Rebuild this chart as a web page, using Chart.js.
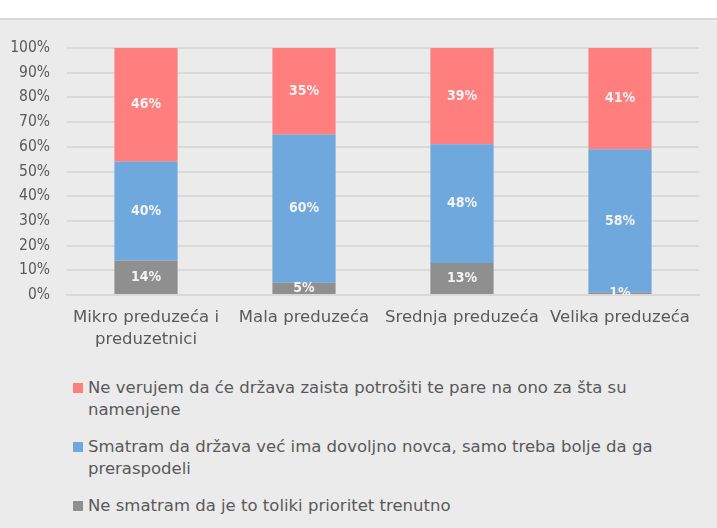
<!DOCTYPE html>
<html>
<head>
<meta charset="utf-8">
<script src="https://cdn.jsdelivr.net/npm/chart.js@4/dist/chart.umd.min.js"></script>
<style>
  html, body { margin: 0; padding: 0; background: #fff; }
  body { width: 717px; height: 528px; position: relative; overflow: hidden;
         font-family: "DejaVu Sans", sans-serif; }
  #panel { position: absolute; left: 0; top: 18px; width: 717px; height: 510px;
           background: #ebebeb; border-top: 2px solid #d9d9d9; box-sizing: border-box; }
  #wrap { position: absolute; left: 0; top: 20px; width: 717px; height: 335px; }
  #legend { position: absolute; left: 73px; top: 377px; color: #595959; font-size: 16.5px; line-height: 22px; }
  .item { display: flex; align-items: flex-start; margin-bottom: 15px; }
  .box { width: 10px; height: 10px; margin-top: 6px; margin-right: 5px; flex: none; }
</style>
</head>
<body>
<div id="panel"></div>
<div id="wrap"><canvas id="graph"></canvas></div>
<div id="legend"></div>
<script>
// categories on the x axis (multi-line labels)
const categories = [
  ['Mikro preduzeća i', 'preduzetnici'],
  'Mala preduzeća',
  'Srednja preduzeća',
  'Velika preduzeća'
];

// series, top of the stack first (legend order)
const seriesLabels = [
  ['Ne verujem da će država zaista potrošiti te pare na ono za šta su', 'namenjene'],
  ['Smatram da država već ima dovoljno novca, samo treba bolje da ga', 'preraspodeli'],
  ['Ne smatram da je to toliki prioritet trenutno']
];
const notTrusting = [46, 35, 39, 41];
const redistribute = [40, 60, 48, 58];
const notPriority = [14, 5, 13, 1];
const seriesColors = ['#ff7f7f', '#6fa8dc', '#8f8f8f'];

const yTicks = [0, 10, 20, 30, 40, 50, 60, 70, 80, 90, 100];

const FONT = '"DejaVu Sans", sans-serif';
const NARROW = '"DejaVu Sans Condensed", "DejaVu Sans", sans-serif';

// draws the value of every segment in its middle, clipped to the plot area
const segmentLabels = {
  id: 'segmentLabels',
  afterDatasetsDraw(chart) {
    const ctx = chart.ctx;
    const area = chart.chartArea;
    ctx.save();
    ctx.beginPath();
    ctx.rect(area.left, area.top, area.right - area.left, area.bottom - area.top);
    ctx.clip();
    ctx.font = 'bold 14px ' + NARROW;
    ctx.fillStyle = '#f4f4f4';
    ctx.textAlign = 'center';
    ctx.textBaseline = 'middle';
    chart.data.datasets.forEach(function(ds, i) {
      chart.getDatasetMeta(i).data.forEach(function(bar, j) {
        ctx.fillText(ds.data[j] + '%', bar.x, (bar.y + bar.base) / 2);
      });
    });
    ctx.restore();
  }
};

// stacking order: bottom first
const datasets = [
  {label: seriesLabels[2].join(' '), data: notPriority, backgroundColor: seriesColors[2]},
  {label: seriesLabels[1].join(' '), data: redistribute, backgroundColor: seriesColors[1]},
  {label: seriesLabels[0].join(' '), data: notTrusting, backgroundColor: seriesColors[0]}
];

const chart = new Chart(document.getElementById('graph').getContext('2d'), {
  type: 'bar',
  data: {labels: categories, datasets: datasets},
  plugins: [segmentLabels],
  options: {
    responsive: true,
    maintainAspectRatio: false,
    animation: false,
    datasets: {bar: {categoryPercentage: 1, barPercentage: 0.4, borderWidth: 0}},
    layout: {padding: {top: 28, right: 18, left: 0, bottom: 0}},
    plugins: {legend: {display: false}, tooltip: {enabled: false}},
    scales: {
      x: {
        stacked: true,
        grid: {display: false, drawTicks: false},
        border: {display: true, color: '#d9d9d9', width: 2},
        ticks: {color: '#595959', padding: 12, maxRotation: 0, autoSkip: false,
                font: {family: FONT, size: 16.5, lineHeight: 1.333}},
        afterFit(s) { s.height = 60; }
      },
      y: {
        stacked: true,
        min: 0, max: 100,
        afterBuildTicks(s) { s.ticks = yTicks.map(function(v) { return {value: v}; }); },
        grid: {color: '#d9d9d9', lineWidth: 2, drawTicks: false},
        border: {display: false},
        ticks: {color: '#595959', padding: 17,
                font: {family: NARROW, size: 15.5},
                callback: function(v) { return v + '%'; }},
        afterFit(s) { s.width = 67; }
      }
    }
  }
});

// legend as html so the long labels can wrap like the original
const legend = document.getElementById('legend');
seriesLabels.forEach(function(lines, i) {
  const item = document.createElement('div');
  item.className = 'item';
  item.innerHTML = '<span class="box" style="background:' + seriesColors[i] + '"></span><span>' +
    lines.join('<br>') + '</span>';
  legend.appendChild(item);
});
</script>
</body>
</html>
